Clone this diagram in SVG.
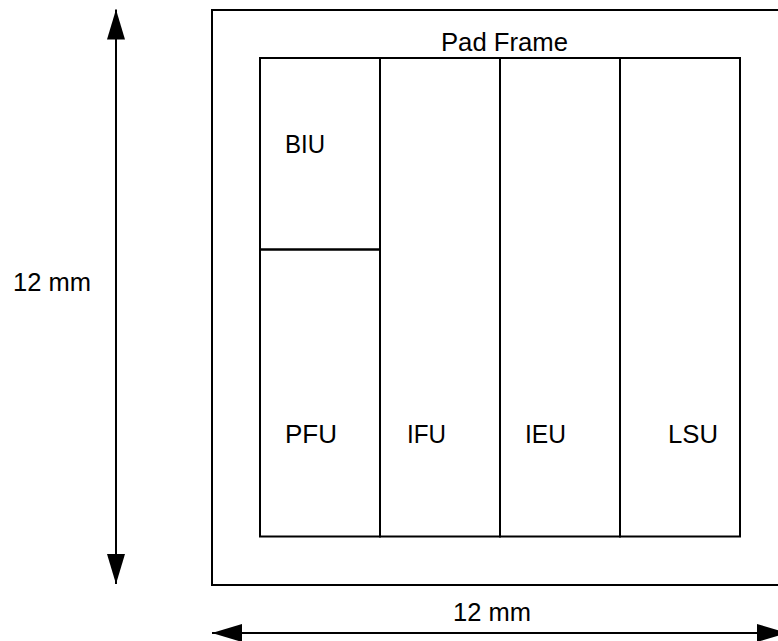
<svg xmlns="http://www.w3.org/2000/svg" width="778" height="641" viewBox="0 0 778 641">
<defs>
<style>
.ln{fill:none;stroke:#000;stroke-width:2}
.t{font-family:"Liberation Sans",Arial,sans-serif;font-size:25px;fill:#000}
</style>
<marker id="ah" markerUnits="userSpaceOnUse" markerWidth="30" markerHeight="18" refX="30" refY="9" orient="auto-start-reverse" viewBox="0 0 30 18">
<path d="M0,0 L30,9 L0,18 Z" fill="#000"/>
</marker>
</defs>
<rect width="778" height="641" fill="#fff"/>
<g id="pad-frame">
<rect class="ln" x="212" y="10" width="575" height="575"/>
<text class="t" x="441" y="51" textLength="127" lengthAdjust="spacingAndGlyphs">Pad Frame</text>
</g>
<g id="biu">
<rect class="ln" x="260" y="58" width="120" height="191.5"/>
<text class="t" x="285" y="153" textLength="40" lengthAdjust="spacingAndGlyphs">BIU</text>
</g>
<g id="pfu">
<rect class="ln" x="260" y="249.5" width="120" height="287"/>
<text class="t" x="285" y="443" textLength="52" lengthAdjust="spacingAndGlyphs">PFU</text>
</g>
<g id="ifu">
<rect class="ln" x="380" y="58" width="120" height="478.5"/>
<text class="t" x="407" y="443" textLength="39" lengthAdjust="spacingAndGlyphs">IFU</text>
</g>
<g id="ieu">
<rect class="ln" x="500" y="58" width="120" height="478.5"/>
<text class="t" x="525" y="443" textLength="41" lengthAdjust="spacingAndGlyphs">IEU</text>
</g>
<g id="lsu">
<rect class="ln" x="620" y="58" width="120" height="478.5"/>
<text class="t" x="668" y="443" textLength="50" lengthAdjust="spacingAndGlyphs">LSU</text>
</g>
<g id="connectors">
<line class="ln" x1="116" y1="9.5" x2="116" y2="584" marker-start="url(#ah)" marker-end="url(#ah)"/>
<line class="ln" x1="212" y1="633" x2="787" y2="633" marker-start="url(#ah)" marker-end="url(#ah)"/>
</g>
<g id="dim-labels">
<text class="t" x="13" y="291" textLength="78" lengthAdjust="spacingAndGlyphs">12 mm</text>
<text class="t" x="453" y="621" textLength="78" lengthAdjust="spacingAndGlyphs">12 mm</text>
</g>
</svg>
